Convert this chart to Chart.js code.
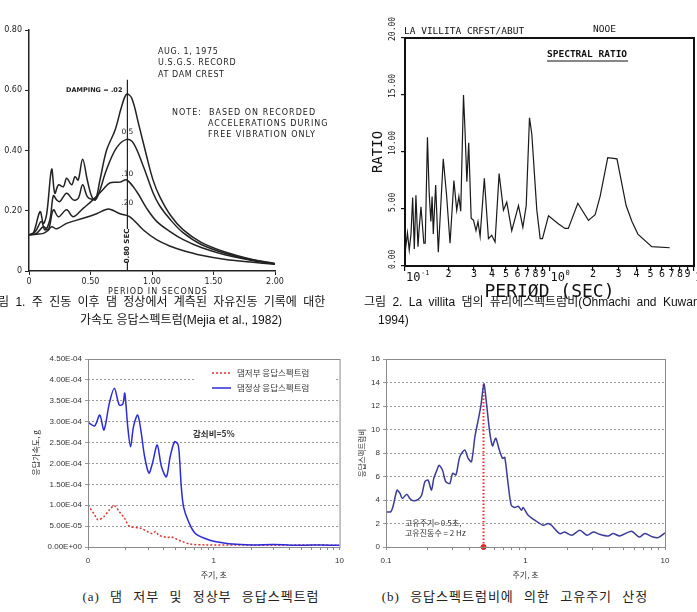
<!DOCTYPE html>
<html>
<head>
<meta charset="utf-8">
<title>응답스펙트럼</title>
<script src="https://cdn.jsdelivr.net/npm/chart.js@4.4.1/dist/chart.umd.min.js"></script>
<style>
  body { margin: 0; background: #fff; }
  #page { position: relative; width: 697px; height: 612px; overflow: hidden; background: #fff; }
  canvas { position: absolute; }
  .cap { position: absolute; white-space: nowrap; font-family: "Liberation Sans", "Noto Sans CJK KR", sans-serif; font-size: 12px; line-height: 14px; color: #111; }
  .sub { position: absolute; white-space: nowrap; font-family: "Liberation Serif", "Noto Sans CJK KR", serif; font-size: 13px; line-height: 16px; color: #222; word-spacing: 6px; letter-spacing: 1px; transform: translateX(-50%); }
</style>
</head>
<body>
<div id="page">
  <canvas id="fig1" width="340" height="300" style="left:0;top:0"></canvas>
  <canvas id="fig2" width="357" height="300" style="left:340px;top:0"></canvas>
  <canvas id="figA" width="350" height="248" style="left:0;top:340px"></canvas>
  <canvas id="figB" width="347" height="248" style="left:350px;top:340px"></canvas>

  <div class="cap" style="left:-13px;top:295px;word-spacing:3px">그림 1. 주 진동 이후 댐 정상에서 계측된 자유진동 기록에 대한</div>
  <div class="cap" style="left:80px;top:313px">가속도 응답스펙트럼(Mejia et al., 1982)</div>
  <div class="cap" style="left:364px;top:295px;word-spacing:3px">그림 2. La villita 댐의 퓨리에스펙트럼비(Ohmachi and Kuwano,</div>
  <div class="cap" style="left:378px;top:313px">1994)</div>

  <div class="sub" style="left:201px;top:589px">(a) 댐 저부 및 정상부 응답스펙트럼</div>
  <div class="sub" style="left:515px;top:589px">(b) 응답스펙트럼비에 의한 고유주기 산정</div>
</div>

<script>
// ---- Fig 1: acceleration response spectra at dam crest (Mejia et al.) ----
const damp02Period = [0, 0.035, 0.09, 0.117, 0.144, 0.184, 0.21, 0.24, 0.28, 0.306, 0.347, 0.374, 0.40, 0.436, 0.474, 0.51, 0.54, 0.577, 0.63, 0.70, 0.753, 0.794, 0.835, 0.89, 0.957, 1.01, 1.065, 1.15, 1.25, 1.4, 1.6, 1.8, 2.0];
const damp02Acc = [0.12, 0.125, 0.197, 0.158, 0.19, 0.338, 0.258, 0.286, 0.28, 0.308, 0.286, 0.313, 0.302, 0.371, 0.302, 0.247, 0.236, 0.302, 0.40, 0.468, 0.546, 0.587, 0.574, 0.49, 0.38, 0.30, 0.245, 0.185, 0.138, 0.095, 0.062, 0.04, 0.025];

const damp05Period = [0, 0.05, 0.10, 0.13, 0.17, 0.198, 0.225, 0.25, 0.306, 0.36, 0.40, 0.436, 0.474, 0.51, 0.55, 0.63, 0.71, 0.794, 0.85, 0.93, 1.01, 1.065, 1.15, 1.25, 1.4, 1.6, 1.8, 2.0];
const damp05Acc = [0.12, 0.13, 0.164, 0.136, 0.17, 0.25, 0.236, 0.23, 0.258, 0.236, 0.241, 0.286, 0.247, 0.238, 0.241, 0.336, 0.408, 0.437, 0.424, 0.347, 0.258, 0.215, 0.17, 0.128, 0.088, 0.058, 0.038, 0.024];

const damp10Period = [0, 0.06, 0.117, 0.157, 0.198, 0.24, 0.306, 0.36, 0.44, 0.52, 0.60, 0.66, 0.74, 0.794, 0.875, 0.957, 1.04, 1.15, 1.25, 1.4, 1.6, 1.8, 2.0];
const damp10Acc = [0.12, 0.125, 0.147, 0.136, 0.203, 0.18, 0.203, 0.18, 0.208, 0.236, 0.27, 0.293, 0.295, 0.302, 0.264, 0.208, 0.164, 0.13, 0.105, 0.078, 0.053, 0.036, 0.023];

const damp20Period = [0, 0.06, 0.117, 0.155, 0.184, 0.225, 0.306, 0.44, 0.55, 0.645, 0.74, 0.82, 0.93, 1.04, 1.15, 1.25, 1.4, 1.6, 1.8, 2.0];
const damp20Acc = [0.12, 0.122, 0.125, 0.135, 0.147, 0.14, 0.158, 0.175, 0.19, 0.206, 0.19, 0.18, 0.136, 0.103, 0.082, 0.068, 0.052, 0.038, 0.03, 0.022];

const crestMarkPeriod = [0.8, 0.8];
const crestMarkAcc = [0, 0.635];
const fig1PeriodTicks = [0, 0.5, 1.0, 1.5, 2.0];
const fig1AccTicks = [0, 0.2, 0.4, 0.6, 0.8];

// ---- Fig 2: La Villita spectral ratio ----
const ratioPeriod = [0.1, 0.104, 0.107, 0.11, 0.113, 0.116, 0.119, 0.123, 0.125, 0.129, 0.135, 0.138, 0.143, 0.147, 0.151, 0.154, 0.157, 0.163, 0.170, 0.184, 0.194, 0.205, 0.218, 0.228, 0.236, 0.243, 0.254, 0.26, 0.268, 0.276, 0.287, 0.298, 0.31, 0.32, 0.331, 0.354, 0.378, 0.398, 0.42, 0.448, 0.48, 0.506, 0.548, 0.61, 0.654, 0.69, 0.727, 0.754, 0.817, 0.862, 0.894, 0.984, 1.15, 1.28, 1.35, 1.57, 1.86, 2.07, 2.24, 2.53, 2.93, 3.39, 3.72, 4.09, 5.1, 6.79];
const ratioValue = [1.1, 2.9, 1.4, 2.8, 6.0, 1.5, 6.2, 1.7, 3.1, 5.2, 2.0, 2.0, 11.3, 6.4, 3.9, 6.1, 2.8, 7.1, 1.2, 9.4, 6.2, 2.0, 7.5, 4.9, 6.1, 4.8, 15.0, 12.0, 7.4, 10.8, 4.2, 4.0, 3.1, 3.9, 2.6, 7.7, 2.4, 2.7, 2.1, 8.1, 4.9, 5.6, 3.1, 5.3, 3.4, 5.3, 13.0, 11.6, 4.9, 2.4, 2.4, 4.4, 3.7, 3.3, 3.3, 5.5, 4.0, 4.5, 6.1, 9.5, 9.4, 5.3, 3.9, 2.8, 1.7, 1.6];
const ratioTicks = [0, 5, 10, 15, 20];

// ---- (a) base / crest response spectra ----
const basePeriod = [0.1, 0.113, 0.12, 0.134, 0.148, 0.162, 0.177, 0.195, 0.213, 0.263, 0.296, 0.325, 0.345, 0.366, 0.425, 0.46, 0.541, 0.65, 0.85, 1.5, 3, 6, 10];
const baseAcc = [1.0e-4, 0.77e-4, 0.65e-4, 0.73e-4, 0.89e-4, 0.99e-4, 0.85e-4, 0.69e-4, 0.50e-4, 0.45e-4, 0.37e-4, 0.32e-4, 0.37e-4, 0.28e-4, 0.23e-4, 0.24e-4, 0.15e-4, 0.07e-4, 0.05e-4, 0.05e-4, 0.04e-4, 0.05e-4, 0.04e-4];
const crestPeriod = [0.1, 0.113, 0.124, 0.134, 0.148, 0.162, 0.177, 0.189, 0.196, 0.207, 0.218, 0.23, 0.248, 0.263, 0.282, 0.305, 0.325, 0.355, 0.384, 0.42, 0.45, 0.488, 0.52, 0.535, 0.55, 0.575, 0.629, 0.71, 0.876, 1.0, 1.41, 2.0, 3.0, 5.0, 7.0, 10];
const crestAcc = [2.98e-4, 2.9e-4, 3.16e-4, 2.8e-4, 3.45e-4, 3.8e-4, 3.4e-4, 3.42e-4, 3.68e-4, 2.88e-4, 2.4e-4, 2.88e-4, 3.16e-4, 2.8e-4, 2.16e-4, 1.77e-4, 2.0e-4, 2.44e-4, 1.92e-4, 1.68e-4, 2.16e-4, 2.52e-4, 2.45e-4, 2.1e-4, 1.5e-4, 0.96e-4, 0.61e-4, 0.33e-4, 0.19e-4, 0.14e-4, 0.07e-4, 0.05e-4, 0.06e-4, 0.04e-4, 0.05e-4, 0.04e-4];
const accTicksA = [0, 0.5e-4, 1.0e-4, 1.5e-4, 2.0e-4, 2.5e-4, 3.0e-4, 3.5e-4, 4.0e-4, 4.5e-4];

// ---- (b) response spectrum ratio ----
const specPeriod = [0.1, 0.108, 0.112, 0.12, 0.126, 0.131, 0.141, 0.148, 0.157, 0.17, 0.18, 0.19, 0.2, 0.212, 0.22, 0.232, 0.24, 0.254, 0.268, 0.287, 0.3, 0.317, 0.338, 0.367, 0.388, 0.41, 0.434, 0.458, 0.48, 0.503, 0.525, 0.555, 0.58, 0.596, 0.613, 0.647, 0.684, 0.71, 0.75, 0.79, 0.838, 0.886, 0.936, 0.962, 1.045, 1.167, 1.34, 1.45, 1.535, 1.76, 1.91, 2.14, 2.45, 2.77, 3.06, 3.41, 3.91, 4.25, 4.74, 5.75, 6.52, 7.18, 8.2, 8.93, 10];
const specRatio = [2.99, 2.99, 3.4, 4.84, 4.56, 4.13, 4.5, 4.13, 3.93, 4.05, 4.4, 5.56, 5.7, 4.84, 5.84, 6.55, 6.95, 6.55, 5.56, 5.41, 6.27, 6.13, 7.69, 8.26, 7.55, 7.26, 9.4, 10.8, 12.1, 13.9, 12.25, 9.7, 8.6, 8.97, 9.26, 8.32, 7.55, 7.63, 5.4, 3.56, 3.36, 3.47, 3.13, 3.36, 2.7, 2.28, 1.85, 2.0, 1.85, 1.14, 1.28, 1.0, 1.42, 1.0, 1.28, 1.08, 0.94, 1.14, 0.94, 1.34, 0.85, 1.14, 0.85, 0.8, 1.2];
const naturalPeriod = [0.5, 0.5];
const naturalMark = [0, 13.9];
const ratioTicksB = [0, 2, 4, 6, 8, 10, 12, 14, 16];

// log axis ticks shared by (a) and (b), plus which of them carry labels
const logTicks = [0.1, 0.2, 0.3, 0.4, 0.5, 0.6, 0.7, 0.8, 0.9, 1, 2, 3, 4, 5, 6, 7, 8, 9, 10];
const labelTicks = [0.1, 1, 10];
const labelsA = ['0', '1', '10'];
const labelsB = ['0.1', '1', '10'];

function pts(xs, ys) {
    return xs.map((x, i) => ({ x: x, y: ys[i] }));
}

function setTicks(list) {
    return function(scale) {
        scale.ticks = list.map(v => ({ value: v }));
    };
}

function pickLabel(texts) {
    return function(value) {
        const i = labelTicks.findIndex(t => Math.abs(t - value) < 1e-9);
        return i < 0 ? '' : texts[i];
    };
}

function sci(v) {
    if (v === 0) return '0.00E+00';
    let e = Math.floor(Math.log10(v) + 1e-9);
    let m = v / Math.pow(10, e);
    return m.toFixed(2) + 'E' + (e < 0 ? '-' : '+') + String(Math.abs(e)).padStart(2, '0');
}

const baseOpts = {
    responsive: false,
    animation: false,
    events: [],
    plugins: { legend: { display: false }, tooltip: { enabled: false } }
};

// ------------------------------------------------------------------ Fig 1
const fig1Notes = {
    id: 'fig1Notes',
    afterDraw(chart) {
        const ctx = chart.ctx;
        const x = chart.scales.x;
        const mx = x.getPixelForValue(0.8);
        ctx.save();
        ctx.fillStyle = '#222';
        ctx.textBaseline = 'middle';
        ctx.font = '8px "DejaVu Sans"';
        ctx.letterSpacing = '0.6px';
        ctx.fillText('AUG. 1, 1975', 158, 52);
        ctx.fillText('U.S.G.S. RECORD', 158, 63);
        ctx.fillText('AT DAM CREST', 158, 75);
        ctx.letterSpacing = '1px';
        ctx.fillText('NOTE:  BASED ON RECORDED', 172, 113);
        ctx.fillText('ACCELERATIONS DURING', 208, 124);
        ctx.fillText('FREE VIBRATION ONLY', 208, 135);
        ctx.fillText('PERIOD IN SECONDS', 108, 292);

        ctx.letterSpacing = '0px';
        ctx.font = 'bold 6.5px "DejaVu Sans"';
        ctx.textAlign = 'right';
        ctx.fillText('DAMPING = .02', mx - 5, 90);
        ctx.textAlign = 'center';
        ctx.font = '7.5px "DejaVu Sans"';
        ctx.fillText('0.5', mx, 132);
        ctx.fillText('.10', mx, 174);
        ctx.fillText('.20', mx, 203);

        // rotated period label over the marker line
        ctx.save();
        ctx.translate(mx, 246);
        ctx.rotate(-Math.PI / 2);
        ctx.fillStyle = '#fff';
        ctx.fillRect(-17, -4, 34, 8);
        ctx.fillStyle = '#222';
        ctx.font = 'bold 7px "DejaVu Sans"';
        ctx.fillText('0.80 SEC', 0, 0);
        ctx.restore();
        ctx.restore();
    }
};

const curve1 = (xs, ys) => ({
    data: pts(xs, ys), borderColor: '#222', borderWidth: 1.5,
    pointRadius: 0, tension: 0.35, fill: false
});

new Chart(document.getElementById('fig1'), {
    type: 'line',
    data: {
        datasets: [
            curve1(damp02Period, damp02Acc),
            curve1(damp05Period, damp05Acc),
            curve1(damp10Period, damp10Acc),
            curve1(damp20Period, damp20Acc),
            { data: pts(crestMarkPeriod, crestMarkAcc), borderColor: '#222', borderWidth: 1.2, pointRadius: 0, tension: 0 }
        ]
    },
    options: {
        ...baseOpts,
        layout: { padding: { top: 30, right: 65, left: 0, bottom: 0 } },
        scales: {
            x: {
                type: 'linear', min: 0, max: 2,
                afterBuildTicks: setTicks(fig1PeriodTicks),
                ticks: { callback: v => v === 0 ? '0' : v.toFixed(2), font: { family: 'DejaVu Sans', size: 8 }, color: '#222', maxRotation: 0, padding: 2 },
                grid: { drawOnChartArea: false, tickLength: 4, color: '#222' },
                border: { color: '#222', width: 1.5 },
                afterFit: s => { s.height = 29; }
            },
            y: {
                type: 'linear', min: 0, max: 0.8,
                afterBuildTicks: setTicks(fig1AccTicks),
                ticks: { callback: v => v === 0 ? '0' : v.toFixed(2), font: { family: 'DejaVu Sans', size: 8 }, color: '#222', padding: 3 },
                grid: { drawOnChartArea: false, tickLength: 4, color: '#222' },
                border: { color: '#222', width: 1.5 },
                afterFit: s => { s.width = 29; }
            }
        }
    },
    plugins: [fig1Notes]
});

// ------------------------------------------------------------------ Fig 2
const fig2Frame = {
    id: 'fig2Frame',
    afterDraw(chart) {
        const ctx = chart.ctx;
        const a = chart.chartArea;
        const x = chart.scales.x, y = chart.scales.y;
        const mono = '"DejaVu Sans Mono"';
        ctx.save();
        ctx.strokeStyle = '#111';
        ctx.lineWidth = 2;
        ctx.strokeRect(a.left, a.top, a.right - a.left, a.bottom - a.top);
        ctx.fillStyle = '#111';

        // rotated y tick labels
        ctx.font = '8px ' + mono;
        ctx.textBaseline = 'middle';
        y.ticks.forEach(t => {
            const py = y.getPixelForValue(t.value);
            ctx.save();
            ctx.translate(a.left - 12, py + 3);
            ctx.rotate(-Math.PI / 2);
            ctx.textAlign = 'left';
            ctx.fillText(t.value.toFixed(2), 0, 0);
            ctx.restore();
        });

        // x tick labels: decades as 10^n, others as the leading digit
        x.ticks.forEach(t => {
            const v = t.value;
            const px = x.getPixelForValue(v);
            const lg = Math.log10(v);
            const e = Math.round(lg);
            if (Math.abs(lg - e) < 1e-6) {
                ctx.textAlign = 'left';
                ctx.font = '12px ' + mono;
                ctx.fillText('10', px + 1, a.bottom + 12);
                ctx.font = '7px ' + mono;
                ctx.fillText(String(e), px + 16, a.bottom + 7);
            } else {
                ctx.textAlign = 'center';
                ctx.font = '10px ' + mono;
                ctx.fillText(String(Math.round(v / Math.pow(10, Math.floor(lg + 1e-9)))), px, a.bottom + 8);
            }
        });

        ctx.textAlign = 'left';
        ctx.font = '9.5px ' + mono;
        ctx.fillText('LA VILLITA CRFST/ABUT', a.left - 1, 32);
        ctx.fillText('NOOE', 253, 30);
        ctx.font = 'bold 9.5px ' + mono;
        ctx.fillText('SPECTRAL RATIO', 207, 55);
        ctx.lineWidth = 1;
        ctx.beginPath();
        ctx.moveTo(207, 61);
        ctx.lineTo(288, 61);
        ctx.stroke();

        ctx.font = '18px ' + mono;
        ctx.textAlign = 'center';
        ctx.fillText('PERIØD (SEC)', x.getPixelForValue(1), 292);

        ctx.save();
        ctx.translate(38, (a.top + a.bottom) / 2);
        ctx.rotate(-Math.PI / 2);
        ctx.font = '14px ' + mono;
        ctx.fillText('RATIO', 0, 0);
        ctx.restore();
        ctx.restore();
    }
};

new Chart(document.getElementById('fig2'), {
    type: 'line',
    data: {
        datasets: [{
            data: pts(ratioPeriod, ratioValue), borderColor: '#1a1a1a', borderWidth: 1.2,
            pointRadius: 0, tension: 0
        }]
    },
    options: {
        ...baseOpts,
        layout: { padding: { top: 38, right: 3, left: 0, bottom: 0 } },
        scales: {
            x: {
                type: 'logarithmic', min: 0.1, max: 10,
                afterBuildTicks: setTicks(logTicks),
                ticks: { display: false },
                grid: { drawOnChartArea: false, tickLength: 5, color: '#111', lineWidth: 1.2 },
                border: { display: false },
                afterFit: s => { s.height = 34; }
            },
            y: {
                type: 'linear', min: 0, max: 20,
                afterBuildTicks: setTicks(ratioTicks),
                ticks: { display: false },
                grid: { drawOnChartArea: false, tickLength: 4, color: '#111', lineWidth: 1.2 },
                border: { display: false },
                afterFit: s => { s.width = 65; }
            }
        }
    },
    plugins: [fig2Frame]
});

// ------------------------------------------------------------------ (a)
const frameA = {
    id: 'frameA',
    afterDraw(chart) {
        const ctx = chart.ctx;
        const a = chart.chartArea;
        ctx.save();
        ctx.strokeStyle = '#8a8a8a';
        ctx.lineWidth = 1;
        ctx.strokeRect(a.left + 0.5, a.top + 0.5, a.right - a.left, a.bottom - a.top);

        // legend box
        ctx.fillStyle = '#fff';
        ctx.fillRect(196, 22, 140, 34);
        ctx.lineWidth = 1.5;
        ctx.strokeStyle = '#e03030';
        ctx.setLineDash([2, 2]);
        ctx.beginPath(); ctx.moveTo(212, 33); ctx.lineTo(231, 33); ctx.stroke();
        ctx.setLineDash([]);
        ctx.strokeStyle = '#2b2bd9';
        ctx.beginPath(); ctx.moveTo(212, 48); ctx.lineTo(231, 48); ctx.stroke();

        ctx.fillStyle = '#333';
        ctx.textBaseline = 'middle';
        ctx.font = '8.5px "Noto Sans CJK KR"';
        ctx.fillText('댐저부 응답스펙트럼', 237, 33);
        ctx.fillText('댐정상 응답스펙트럼', 237, 48);
        ctx.font = 'bold 8.5px "Noto Sans CJK KR"';
        ctx.fillText('감쇠비=5%', 193, 94);

        ctx.font = '8px "Noto Sans CJK KR"';
        ctx.textAlign = 'center';
        ctx.fillText('주기, 초', (a.left + a.right) / 2, 235);
        ctx.save();
        ctx.translate(36, (a.top + a.bottom) / 2);
        ctx.rotate(-Math.PI / 2);
        ctx.fillText('응답가속도, g', 0, 0);
        ctx.restore();
        ctx.restore();
    }
};

new Chart(document.getElementById('figA'), {
    type: 'line',
    data: {
        datasets: [
            { data: pts(crestPeriod, crestAcc), borderColor: '#2b2bd9', borderWidth: 1.5, pointRadius: 0, tension: 0.3 },
            { data: pts(basePeriod, baseAcc), borderColor: '#e03030', borderWidth: 1.5, borderDash: [2, 2], pointRadius: 0, tension: 0.3 }
        ]
    },
    options: {
        ...baseOpts,
        layout: { padding: { top: 19, right: 7, left: 0, bottom: 0 } },
        scales: {
            x: {
                type: 'logarithmic', min: 0.1, max: 10,
                afterBuildTicks: setTicks(logTicks),
                ticks: { autoSkip: false, maxRotation: 0, callback: pickLabel(labelsA), font: { family: 'Liberation Sans', size: 8 }, color: '#333', padding: 6 },
                grid: { drawOnChartArea: false, tickLength: 3, color: '#8a8a8a' },
                border: { display: false },
                afterFit: s => { s.height = 41; }
            },
            y: {
                type: 'linear', min: 0, max: 4.5e-4,
                afterBuildTicks: setTicks(accTicksA),
                ticks: { callback: sci, font: { family: 'Liberation Sans', size: 8 }, color: '#333', padding: 3 },
                grid: { color: '#9a9a9a', tickLength: 3 },
                border: { display: false, dash: [2, 2] },
                afterFit: s => { s.width = 88; }
            }
        }
    },
    plugins: [frameA]
});

// ------------------------------------------------------------------ (b)
const frameB = {
    id: 'frameB',
    afterDraw(chart) {
        const ctx = chart.ctx;
        const a = chart.chartArea;
        ctx.save();
        ctx.strokeStyle = '#8a8a8a';
        ctx.lineWidth = 1;
        ctx.strokeRect(a.left + 0.5, a.top + 0.5, a.right - a.left, a.bottom - a.top);

        ctx.fillStyle = '#333';
        ctx.textBaseline = 'middle';
        ctx.font = '8px "Noto Sans CJK KR"';
        ctx.fillText('고유주기= 0.5초,', 55, 183);
        ctx.fillText('고유진동수 = 2 Hz', 55, 193);

        ctx.textAlign = 'center';
        ctx.fillText('주기, 초', (a.left + a.right) / 2, 235);
        ctx.save();
        ctx.translate(12, (a.top + a.bottom) / 2);
        ctx.rotate(-Math.PI / 2);
        ctx.font = '7.5px "Noto Sans CJK KR"';
        ctx.fillText('응답스펙트럼비', 0, 0);
        ctx.restore();
        ctx.restore();
    }
};

new Chart(document.getElementById('figB'), {
    type: 'line',
    data: {
        datasets: [
            { data: pts(specPeriod, specRatio), borderColor: '#3b3b98', borderWidth: 1.5, pointRadius: 0, tension: 0.25 },
            { data: pts(naturalPeriod, naturalMark), borderColor: 'rgb(255, 40, 40)', borderWidth: 2, borderDash: [1.5, 2], pointRadius: 0, tension: 0 },
            { data: [{ x: naturalPeriod[0], y: naturalMark[0] }], showLine: false, pointRadius: 2.5, pointBackgroundColor: '#e02020', pointBorderColor: '#e02020', clip: false }
        ]
    },
    options: {
        ...baseOpts,
        layout: { padding: { top: 19, right: 32, left: 0, bottom: 0 } },
        scales: {
            x: {
                type: 'logarithmic', min: 0.1, max: 10,
                afterBuildTicks: setTicks(logTicks),
                ticks: { autoSkip: false, maxRotation: 0, callback: pickLabel(labelsB), font: { family: 'Liberation Sans', size: 8 }, color: '#333', padding: 6 },
                grid: { drawOnChartArea: false, tickLength: 3, color: '#8a8a8a' },
                border: { display: false },
                afterFit: s => { s.height = 41; }
            },
            y: {
                type: 'linear', min: 0, max: 16,
                afterBuildTicks: setTicks(ratioTicksB),
                ticks: { font: { family: 'Liberation Sans', size: 8 }, color: '#333', padding: 3 },
                grid: { color: '#9a9a9a', tickLength: 3 },
                border: { display: false, dash: [2, 2] },
                afterFit: s => { s.width = 36; }
            }
        }
    },
    plugins: [frameB]
});
</script>
</body>
</html>
